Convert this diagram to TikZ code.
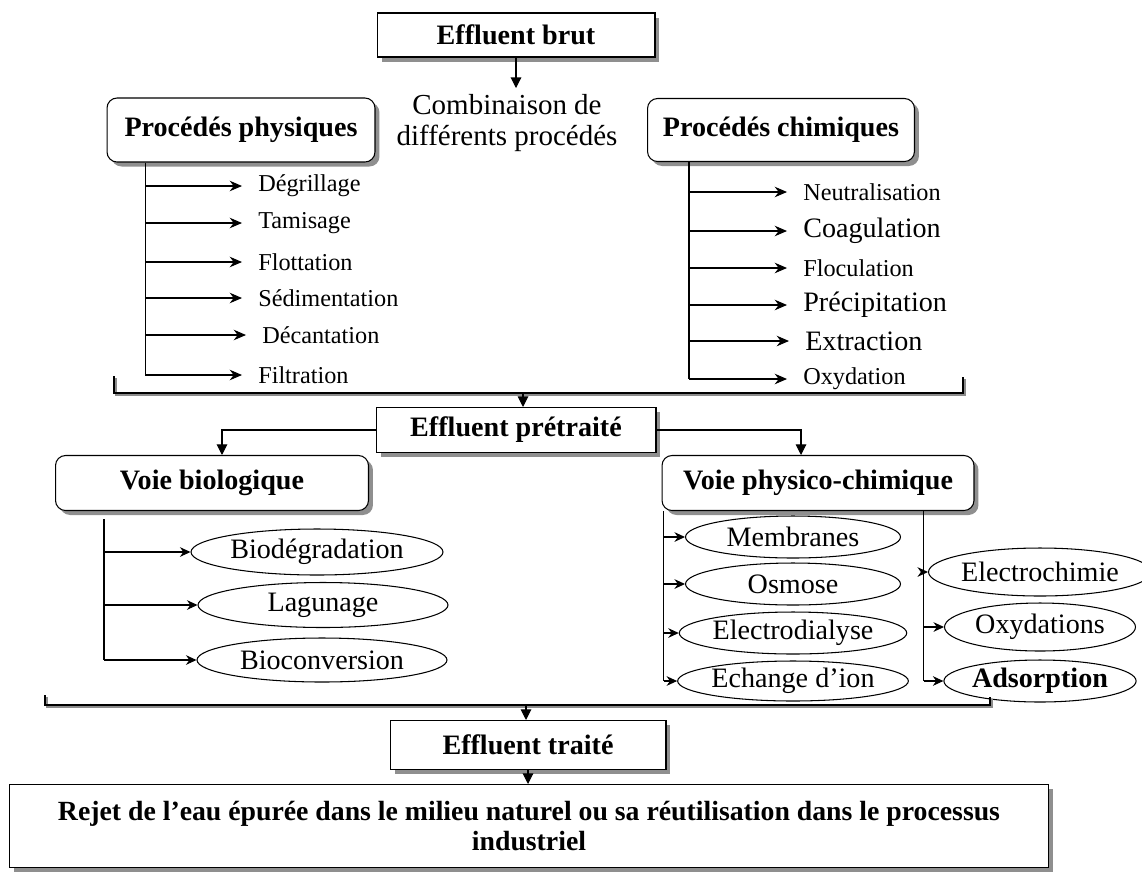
\documentclass[tikz,border=0pt]{standalone}
\usepackage{fontspec}
\setmainfont{Liberation Serif}
\usetikzlibrary{shapes.geometric, positioning, arrows.meta, shadows}

\begin{document}
\begin{tikzpicture}[x=0.02cm, y=-0.02cm, line width=0.6pt,
    every node/.style={font=\fontsize{13.8}{16}\selectfont},
    titlebox/.style={draw, fill=white, inner sep=2pt, font=\fontsize{16}{19}\selectfont\bfseries,
        drop shadow={shadow xshift=0.09cm, shadow yshift=-0.09cm, fill=black!55, opacity=0.8}},
    roundbox/.style={titlebox, rounded corners=0.2cm},
    item/.style={anchor=west, inner sep=1pt},
    bigitem/.style={item, font=\fontsize{16}{19}\selectfont},
    oval/.style={draw, ellipse, inner sep=0pt, font=\fontsize{16}{19}\selectfont},
    arr/.style={-{Stealth[length=7pt, width=6pt]}, shorten >=0.28cm},
    ovalarr/.style={-{Stealth[length=6pt, width=5.5pt]}},
    tip/.style={-{Triangle[length=6pt, width=6pt]}},
    brk/.style={line width=0.9pt},
    brkshadow/.style={line width=1.2pt, black!45}]
    \useasboundingbox (0,0) rectangle (1142,873);

    % Top of the chain
    \node[titlebox, minimum width=5.56cm, minimum height=0.88cm] (brut) at (516,35) {Effluent brut};
    \node[align=center, font=\fontsize{16.5}{17.6}\selectfont] (comb) at (507,123) {Combinaison de\\différents procédés};
    \node[roundbox, minimum width=5.36cm, minimum height=1.28cm] (phys) at (241,130) {Procédés physiques};
    \node[roundbox, minimum width=5.34cm, minimum height=1.26cm] (chim) at (781,130) {Procédés chimiques};
    \draw[tip] (brut.south) -- (brut.south |- comb.north);

    % Physical processes
    \node[item] (ph1) at (256,186) {Dégrillage};
    \node[item] (ph2) at (256,223) {Tamisage};
    \node[item] (ph3) at (256,262) {Flottation};
    \node[item] (ph4) at (256,298) {Sédimentation};
    \node[item] (ph5) at (260,335) {Décantation};
    \node[item] (ph6) at (256,375) {Filtration};
    \coordinate (pv) at ([xshift=0.78cm]phys.south west);
    \draw (pv) -- (pv |- ph6);
    \draw[arr] (pv |- ph1) -- (ph1.west);
    \draw[arr] (pv |- ph2) -- (ph2.west);
    \draw[arr] (pv |- ph3) -- (ph3.west);
    \draw[arr] (pv |- ph4) -- (ph4.west);
    \draw[arr] (pv |- ph5) -- (ph5.west);
    \draw[arr] (pv |- ph6) -- (ph6.west);

    % Chemical processes
    \node[item] (ch1) at (801,192) {Neutralisation};
    \node[bigitem] (ch2) at (801,231) {Coagulation};
    \node[item] (ch3) at (801,268) {Floculation};
    \node[bigitem] (ch4) at (801,305) {Précipitation};
    \node[bigitem] (ch5) at (803,341) {Extraction};
    \node[item] (ch6) at (801,379) {Oxydation};
    \coordinate (cv) at ([xshift=0.84cm]chim.south west);
    \draw (cv) -- (cv |- ch6);
    \draw[arr] (cv |- ch1) -- (ch1.west);
    \draw[arr] (cv |- ch2) -- (ch2.west);
    \draw[arr] (cv |- ch3) -- (ch3.west);
    \draw[arr] (cv |- ch4) -- (ch4.west);
    \draw[arr] (cv |- ch5) -- (ch5.west);
    \draw[arr] (cv |- ch6) -- (ch6.west);

    % Upper bracket
    \coordinate (tl) at (114,376);
    \coordinate (tr) at (963,377);
    \coordinate (tmid) at (523,393);
    \draw[brkshadow] ([shift={(2,2)}]tl) -- ++(0,17) -| ([shift={(2,2)}]tr);
    \draw[brk] (tl) -- ++(0,17) -| (tr);

    % Pretreated effluent and the two ways
    \node[titlebox, minimum width=5.6cm, minimum height=0.9cm] (pre) at (516,430) {Effluent prétraité};
    \node[roundbox, minimum width=6.26cm, minimum height=1.1cm] (bio) at (212,483) {Voie biologique};
    \node[roundbox, minimum width=6.24cm, minimum height=1.1cm] (pc) at (818,483) {Voie physico-chimique};
    \draw[tip] (tmid) -- (tmid |- pre.north);
    \draw[tip] (pre.west) -| ([xshift=0.2cm]bio.north);
    \draw[tip] (pre.east) -| ([xshift=-0.34cm]pc.north);

    % Biological way
    \node[oval, minimum width=5.04cm, minimum height=0.92cm] (b1) at (317,552) {Biodégradation};
    \node[oval, minimum width=5cm, minimum height=0.9cm] (b2) at (323,605) {Lagunage};
    \node[oval, minimum width=5cm, minimum height=0.88cm] (b3) at (322,660) {Bioconversion};
    \coordinate (bv) at ([xshift=0.98cm, yshift=-0.16cm]bio.south west);
    \draw (bv) -- (bv |- b3);
    \draw[ovalarr] (bv |- b1) -- (b1.west);
    \draw[ovalarr] (bv |- b2) -- (b2.west);
    \draw[ovalarr] (bv |- b3) -- (b3.west);

    % Physico-chemical way, left column
    \node[oval, minimum width=4.3cm, minimum height=0.84cm] (m1) at (793,537) {Membranes};
    \node[oval, minimum width=4.3cm, minimum height=0.84cm] (m2) at (793,584) {Osmose};
    \node[oval, minimum width=4.3cm, minimum height=0.84cm] (m3) at (793,633) {Electrodialyse};
    \node[oval, minimum width=4.3cm, minimum height=0.8cm] (m4) at (793,681) {Echange d’ion};
    \coordinate (lv) at ([xshift=0.04cm]pc.south west);
    \draw (lv) -- (lv |- m4);
    \draw[ovalarr] (lv |- m1) -- (m1.west);
    \draw[ovalarr] (lv |- m2) -- (m2.west);
    \draw[ovalarr] (lv |- m3) -- (m3.west);
    \draw[ovalarr] (lv |- m4) -- (m4.west);

    % Physico-chemical way, right column
    \node[oval, minimum width=3.82cm, minimum height=0.96cm] (r1) at (1040,572) {Electrochimie};
    \node[oval, minimum width=3.82cm, minimum height=0.96cm] (r2) at (1040,627) {Oxydations};
    \node[oval, minimum width=3.82cm, minimum height=0.84cm, font=\fontsize{16}{19}\selectfont\bfseries] (r3) at (1040,681) {Adsorption};
    \coordinate (rv) at ([xshift=-1.02cm]pc.south east);
    \draw (rv) -- (rv |- r3);
    \draw[ovalarr] (rv |- r1) -- (r1.west);
    \draw[ovalarr] (rv |- r2) -- (r2.west);
    \draw[ovalarr] (rv |- r3) -- (r3.west);

    % Lower bracket
    \coordinate (bl) at (45,695);
    \coordinate (br) at (990,697);
    \coordinate (bmid) at (526,705);
    \draw[brkshadow] ([shift={(2,2)}]bl) -- ++(0,10) -| ([shift={(2,2)}]br);
    \draw[brk] (bl) -- ++(0,10) -| (br);

    % Treated effluent and release
    \node[titlebox, minimum width=5.52cm, minimum height=0.98cm] (traite) at (528,745) {Effluent traité};
    \node[titlebox, align=center, minimum width=20.8cm, minimum height=1.66cm,
        font=\fontsize{15.8}{17.6}\selectfont\bfseries] (rejet) at (529,826)
        {Rejet de l’eau épurée dans le milieu naturel ou sa réutilisation dans le processus\\industriel};
    \draw[tip] (bmid) -- (bmid |- traite.north);
    \draw[tip] (traite.south) -- (traite.south |- rejet.north);
\end{tikzpicture}
\end{document}
